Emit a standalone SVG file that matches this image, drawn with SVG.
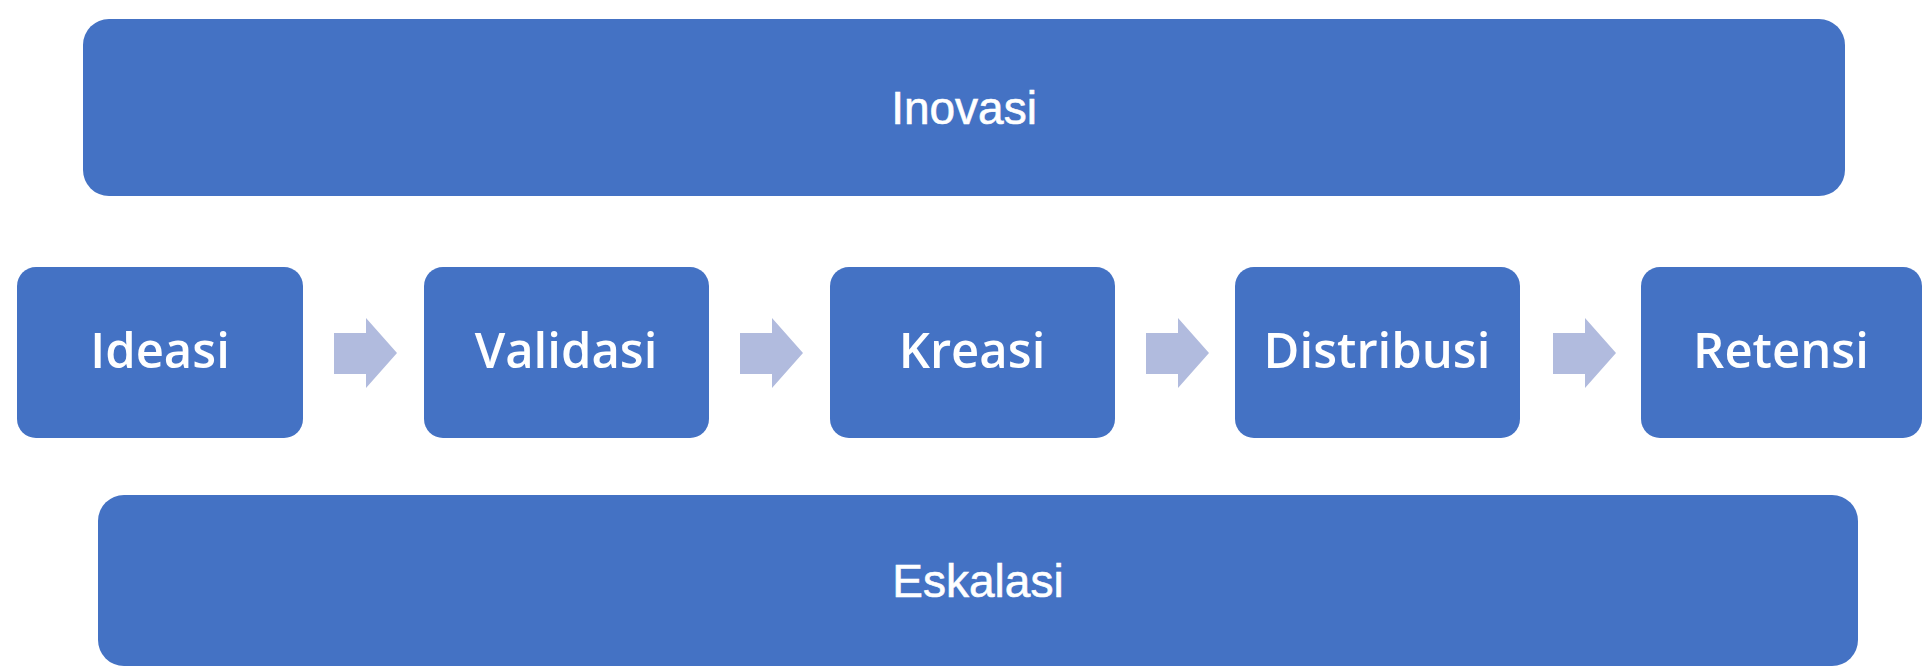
<svg xmlns="http://www.w3.org/2000/svg" width="1923" height="667" viewBox="0 0 1923 667">
<style>
.bar{fill:#4472C4}
.box{fill:#4472C4}
.arr{fill:#B1BBDE}
.t1{font-family:"Liberation Sans",Arial,sans-serif;font-size:46px;fill:#fff;text-anchor:middle;stroke:#fff;stroke-width:0.6}
.t2{font-family:"Open Sans","Noto Sans",sans-serif;font-size:49px;font-weight:600;fill:#fff;text-anchor:middle}
</style>
<rect width="1923" height="667" fill="#fff"/>
<g id="inovasi"><rect class="bar" x="83" y="19" width="1762" height="177" rx="26"/><text class="t1" x="964" y="124">Inovasi</text></g>
<g id="ideasi"><rect class="box" x="17" y="267" width="286" height="171" rx="19"/><text class="t2" x="160" y="368">Ideasi</text></g>
<g id="validasi"><rect class="box" x="424" y="267" width="285" height="171" rx="19"/><text class="t2" x="566" y="368">Validasi</text></g>
<g id="kreasi"><rect class="box" x="830" y="267" width="285" height="171" rx="19"/><text class="t2" x="972" y="368">Kreasi</text></g>
<g id="distribusi"><rect class="box" x="1235" y="267" width="285" height="171" rx="19"/><text class="t2" x="1377" y="368">Distribusi</text></g>
<g id="retensi"><rect class="box" x="1641" y="267" width="281" height="171" rx="19"/><text class="t2" x="1781" y="368">Retensi</text></g>
<g id="eskalasi"><rect class="bar" x="98" y="495" width="1760" height="171" rx="26"/><text class="t1" x="978" y="597">Eskalasi</text></g>
<g id="connectors">
<polygon class="arr" points="334,333 366,333 366,318 397,353 366,388 366,374 334,374"/>
<polygon class="arr" points="740,333 772,333 772,318 803,353 772,388 772,374 740,374"/>
<polygon class="arr" points="1146,333 1178,333 1178,318 1209,353 1178,388 1178,374 1146,374"/>
<polygon class="arr" points="1553,333 1585,333 1585,318 1616,353 1585,388 1585,374 1553,374"/>
</g>
</svg>
